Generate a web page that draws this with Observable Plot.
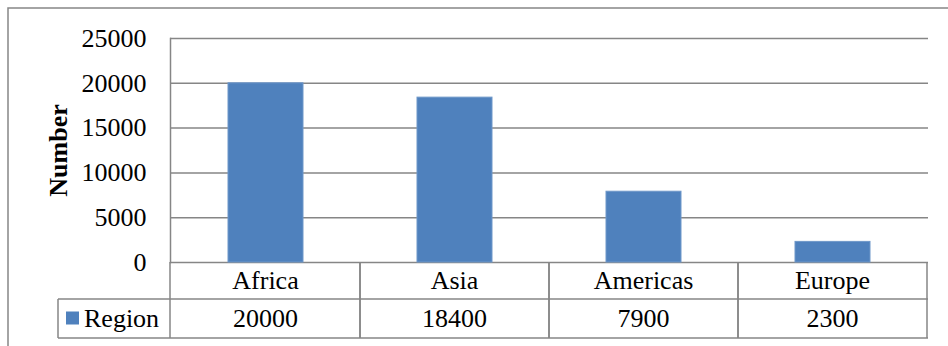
<!DOCTYPE html>
<html><head><meta charset="utf-8">
<script src="https://cdn.jsdelivr.net/npm/d3@7"></script>
<script src="https://cdn.jsdelivr.net/npm/@observablehq/plot@0.6"></script>
<style>
body{margin:0;background:#fff;}
#wrap{position:relative;width:948px;height:346px;overflow:hidden;background:#fff;}
</style>
</head><body><div id="wrap"></div>
<script>
const categories = ["Africa", "Asia", "Americas", "Europe"];
const values = [20000, 18400, 7900, 2300];
const yTicks = [0, 5000, 10000, 15000, 20000, 25000];
const seriesName = "Region";
const yLabel = "Number";

const W = 948, H = 346, ML = 170, MR = 20, MT = 38, MB = 84;
const font = "'Liberation Serif', 'Times New Roman', serif";
const FS = 26;
const gray = "#868686";
const blue = "#4f81bd";
const data = categories.map((c, i) => ({region: c, value: values[i]}));

const chart = Plot.plot({
  width: W, height: H,
  marginLeft: ML, marginRight: MR, marginTop: MT, marginBottom: MB,
  style: {fontFamily: font, fontSize: FS + "px", background: "transparent", color: "#000", overflow: "visible"},
  x: {domain: categories, padding: 0, axis: null},
  y: {domain: [0, 25000], ticks: yTicks, tickFormat: d => String(d), tickSize: 0, tickPadding: 24, label: null},
  marks: [
    Plot.gridY(yTicks, {stroke: gray, strokeOpacity: 1, strokeWidth: 1.5}),
    Plot.barY(data, {x: "region", y: "value", fill: blue, stroke: "#6e97c9", strokeWidth: 1, insetLeft: 57, insetRight: 57}),
    Plot.frame({anchor: "left", stroke: gray, strokeWidth: 1.5}),
    Plot.text([yLabel], {frameAnchor: "left", dx: -112, rotate: -90, textAnchor: "middle", lineAnchor: "middle", fontWeight: "bold", fontSize: FS})
  ]
});

const svg = d3.select(chart);
const xs = chart.scale("x");
const bandw = xs.bandwidth;
const yBase = MT + (H - MT - MB); // y of zero line
const row1 = yBase + 37, row2 = yBase + 76;
const legendLeft = 58;
const g = svg.append("g").attr("font-family", font).attr("font-size", FS).attr("fill", "#000");
const line = (x1, y1, x2, y2) => g.append("line").attr("x1", x1).attr("y1", y1).attr("x2", x2).attr("y2", y2)
  .attr("stroke", gray).attr("stroke-width", 1.5);

// table grid
categories.forEach((c, i) => {
  const x0 = xs.apply(c);
  line(x0 + bandw, yBase, x0 + bandw, row2);
  if (i > 0) line(x0, yBase, x0, row2);
});
line(ML, yBase, ML, row2);
line(legendLeft, row1, W - MR, row1);
line(legendLeft, row2, W - MR, row2);
line(legendLeft, row1, legendLeft, row2);

// category and value rows
categories.forEach((c, i) => {
  const cx = xs.apply(c) + bandw / 2;
  g.append("text").attr("x", cx).attr("y", (yBase + row1) / 2).attr("text-anchor", "middle").attr("dominant-baseline", "central").text(c);
  g.append("text").attr("x", cx).attr("y", (row1 + row2) / 2).attr("text-anchor", "middle").attr("dominant-baseline", "central").text(String(values[i]));
});
// legend cell
g.append("rect").attr("x", 66).attr("y", (row1 + row2) / 2 - 7).attr("width", 13).attr("height", 13).attr("fill", blue);
g.append("text").attr("x", 84).attr("y", (row1 + row2) / 2).attr("text-anchor", "start").attr("dominant-baseline", "central").text(seriesName);

// outer chart border (extends beyond the picture on right and bottom)
svg.insert("rect", ":first-child").attr("x", 8).attr("y", 8).attr("width", W + 20).attr("height", H + 20)
  .attr("fill", "#fff").attr("stroke", gray).attr("stroke-width", 1.5);

document.getElementById("wrap").appendChild(chart);
</script>
</body></html>
